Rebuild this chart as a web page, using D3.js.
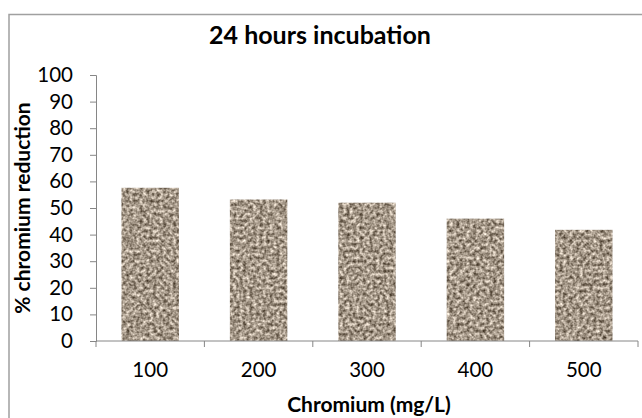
<!DOCTYPE html>
<html><head><meta charset="utf-8">
<script src="https://cdn.jsdelivr.net/npm/d3@7"></script>
<style>body{margin:0;background:#fff}svg{display:block}</style>
</head><body>
<script>
const categories = ["100","200","300","400","500"];
const values = [57.6, 53.2, 52.0, 46.0, 41.8];
const yTicks = [0,10,20,30,40,50,60,70,80,90,100];
const title = "24 hours incubation";
const xTitle = "Chromium (mg/L)";
const yTitle = "% chromium reduction";

const W = 642, H = 418;
const svg = d3.select("body").append("svg").attr("width", W).attr("height", H);
const font = "Lato, 'Open Sans', sans-serif";

const defs = svg.append("defs");
const f = defs.append("filter").attr("id","granite").attr("x",0).attr("y",0).attr("width",1).attr("height",1)
  .attr("color-interpolation-filters","sRGB");
f.append("feTurbulence").attr("type","fractalNoise").attr("baseFrequency","0.3").attr("numOctaves",2).attr("seed",5).attr("result","n");
f.append("feColorMatrix").attr("in","n").attr("type","matrix")
  .attr("values","1.05 0 0 0 0.12  1.05 0 0 0 0.07  1.05 0 0 0 0.01  0 0 0 0 1").attr("result","c");
f.append("feComposite").attr("in","c").attr("in2","SourceGraphic").attr("operator","in");

// outer frame
svg.append("rect").attr("x",9).attr("y",14.5).attr("width",W).attr("height",H)
  .attr("fill","none").attr("stroke","#a0a0a0").attr("stroke-width",1.5);

const x = d3.scaleBand().domain(categories).range([96, 638]).paddingInner(0.47).paddingOuter(0.235);
const y = d3.scaleLinear().domain([0,100]).range([341, 75]);

svg.append("text").attr("x",320).attr("y",44).attr("text-anchor","middle")
  .attr("font-family",font).attr("font-weight","bold").attr("font-size",25).attr("fill","#000").text(title);

svg.selectAll("rect.bar").data(values).enter().append("rect").attr("class","bar")
  .attr("x",(d,i)=>x(categories[i])).attr("width",x.bandwidth())
  .attr("y",d=>y(d)).attr("height",d=>y(0)-y(d))
  .attr("fill","#a09488").attr("filter","url(#granite)");

// y axis
const ya = svg.append("g").attr("transform",`translate(96,0)`)
  .call(d3.axisLeft(y).tickValues(yTicks).tickSize(6).tickPadding(17));
ya.select(".domain").attr("stroke","#868686");
ya.selectAll(".tick line").attr("stroke","#868686");
ya.selectAll(".tick text").attr("font-family",font).attr("font-size",20.5).attr("fill","#000");

// x axis
const xa = svg.append("g").attr("transform",`translate(0,341)`)
  .call(d3.axisBottom(x).tickSize(0).tickPadding(21));
xa.select(".domain").attr("stroke","#868686").attr("d","M96,0H638");
xa.selectAll(".tick text").attr("font-family",font).attr("font-size",20.5).attr("fill","#000");
const step = (638-96)/categories.length;
xa.selectAll("line.sep").data(d3.range(categories.length+1)).enter().append("line")
  .attr("x1",i=>96+i*step).attr("x2",i=>96+i*step).attr("y1",0).attr("y2",6).attr("stroke","#868686");

svg.append("text").attr("x",369).attr("y",412).attr("text-anchor","middle")
  .attr("font-family",font).attr("font-weight","bold").attr("font-size",21).text(xTitle);
svg.append("text").attr("transform","translate(30,208) rotate(-90)").attr("text-anchor","middle")
  .attr("font-family",font).attr("font-weight","bold").attr("font-size",21).text(yTitle);
</script>
</body></html>
